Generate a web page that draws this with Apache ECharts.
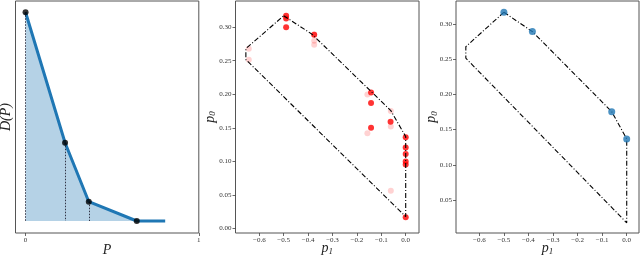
<!DOCTYPE html>
<html><head><meta charset="utf-8">
<script src="https://cdn.jsdelivr.net/npm/echarts@6/dist/echarts.min.js"></script>
<style>html,body{margin:0;padding:0;background:#fff}#c{width:640px;height:256px}</style>
</head><body><div id="c"></div>
<script>
// Panel 1: D(P) curve
const riskP = [0, 0.228, 0.365, 0.642];
const riskD = [1, 0.375, 0.0925, 0];
const tailP = 0.806;
const p1Ticks = [0, 1];
// Hull polygon (panels 2 and 3)
const hullP1 = [-0.50, -0.384, -0.061, 0.0, 0.0, -0.655, -0.655, -0.50];
const hullP0 = [0.317, 0.2895, 0.1756, 0.1368, 0.0175, 0.2516, 0.268, 0.317];
// Panel 2 solid red points
const redP1 = [-0.49, -0.49, -0.49, -0.375, -0.142, -0.142, -0.142, -0.062, 0, 0, 0, 0, 0, 0];
const redP0 = [0.317, 0.313, 0.300, 0.2886, 0.2026, 0.187, 0.150, 0.159, 0.136, 0.1207, 0.111, 0.0998, 0.0953, 0.0164];
// Panel 2 faint points
const pinkP1 = [-0.643, -0.643, -0.375, -0.375, -0.375, -0.157, -0.157, -0.061, -0.061, -0.061];
const pinkP0 = [0.2677, 0.2513, 0.2896, 0.2796, 0.2737, 0.1995, 0.142, 0.175, 0.152, 0.056];
// Panel 3 blue points
const blueP1 = [-0.50, -0.384, -0.061, 0.0];
const blueP0 = [0.317, 0.2895, 0.1756, 0.1368];
const xTicks = [-0.6, -0.5, -0.4, -0.3, -0.2, -0.1, 0.0];
const yTicks2 = [0.00, 0.05, 0.10, 0.15, 0.20, 0.25, 0.30];
const yTicks3 = [0.05, 0.10, 0.15, 0.20, 0.25, 0.30];

const FONT = 'Liberation Serif';
const zip = (a, b) => a.map((v, i) => [v, b[i]]);
const fmtMinus = v => v.toFixed(1).replace('-', '\u2212');
const tickLab = {fontFamily: FONT, fontSize: 7, color: '#333', margin: 4};
const tick = {show: true, inside: false, length: 3, lineStyle: {color: '#444', width: 0.8}};
const nameStyle = {fontFamily: FONT, fontSize: 14, color: '#222', fontStyle: 'italic',
  rich: {i: {fontFamily: FONT, fontSize: 14, fontStyle: 'italic', color: '#222'},
         s: {fontFamily: FONT, fontSize: 9, color: '#222', verticalAlign: 'bottom', padding: [6, 0, 0, 0]}}};

const grids = [
  {left: 15.5, top: 1, width: 183.3, height: 232},
  {left: 235.5, top: 1, width: 183.5, height: 232},
  {left: 456, top: 1, width: 183, height: 232}
].map(g => Object.assign(g, {show: true, borderColor: '#555', borderWidth: 1, backgroundColor: 'transparent',
  containLabel: false, outerBoundsMode: 'none'}));

function xAx(i, min, max, ticks, fmt, name, gap) {
  return {type: 'value', gridIndex: i, min, max, splitLine: {show: false}, axisLine: {show: false, onZero: false},
    axisTick: Object.assign({customValues: ticks}, tick),
    axisLabel: Object.assign({customValues: ticks, formatter: fmt}, tickLab),
    name, nameLocation: 'middle', nameGap: gap, nameMoveOverlap: false, nameTextStyle: nameStyle};
}
function yAx(i, min, max, ticks, fmt, name, gap) {
  const a = {type: 'value', gridIndex: i, min, max, splitLine: {show: false}, axisLine: {show: false, onZero: false},
    name, nameLocation: 'middle', nameGap: gap, nameMoveOverlap: false, nameRotate: 90, nameTextStyle: nameStyle};
  if (ticks) {
    a.axisTick = Object.assign({customValues: ticks}, tick);
    a.axisLabel = Object.assign({customValues: ticks, formatter: fmt}, tickLab);
  } else {
    a.axisTick = {show: false}; a.axisLabel = {show: false};
  }
  return a;
}

const curve = zip(riskP, riskD).concat([[tailP, 0]]);
const hull = zip(hullP1, hullP0);
const dash = {color: '#000', width: 1.1, type: [5, 2, 1, 2]};

const option = {
  animation: false,
  grid: grids,
  xAxis: [
    xAx(0, -0.058, 1.0, p1Ticks, v => String(v), 'P', 10),
    xAx(1, -0.6975, 0.0545, xTicks, fmtMinus, '{i|p}{s|1}', 8),
    xAx(2, -0.695, 0.050, xTicks, fmtMinus, '{i|p}{s|1}', 8)
  ],
  yAxis: [
    yAx(0, -0.0575, 1.054, null, null, 'D(P)', 2),
    yAx(1, -0.0069, 0.339, yTicks2, v => v.toFixed(2), '{i|p}{s|0}', 18),
    yAx(2, 0.003, 0.333, yTicks3, v => v.toFixed(2), '{i|p}{s|0}', 17)
  ],
  series: [
    {type: 'line', xAxisIndex: 0, yAxisIndex: 0, data: curve, symbol: 'none',
     lineStyle: {color: '#1f77b4', width: 3}, areaStyle: {color: '#1f77b4', opacity: 0.33, origin: 0},
     markLine: {silent: true, symbol: 'none', label: {show: false},
       lineStyle: {color: '#223', width: 0.9, type: [1.5, 1.5]},
       data: riskP.slice(0, 3).map((p, i) => [{coord: [p, riskD[i]]}, {coord: [p, 0]}])}},
    {type: 'scatter', xAxisIndex: 0, yAxisIndex: 0, data: zip(riskP, riskD), symbolSize: 6,
     itemStyle: {color: '#000'}, z: 5},
    {type: 'scatter', xAxisIndex: 1, yAxisIndex: 1, data: zip(pinkP1, pinkP0), symbolSize: 6,
     itemStyle: {color: 'rgba(255,0,0,0.22)'}},
    {type: 'scatter', xAxisIndex: 1, yAxisIndex: 1, data: zip(redP1, redP0), symbolSize: 6,
     itemStyle: {color: '#ff0000'}},
    {type: 'line', xAxisIndex: 1, yAxisIndex: 1, data: hull, symbol: 'none', lineStyle: dash, z: 4},
    {type: 'line', xAxisIndex: 2, yAxisIndex: 2, data: hull, symbol: 'none', lineStyle: dash},
    {type: 'scatter', xAxisIndex: 2, yAxisIndex: 2, data: zip(blueP1, blueP0), symbolSize: 7,
     itemStyle: {color: '#1f77b4'}, z: 5}
  ]
};
const chart = echarts.init(document.getElementById('c'), null, {renderer: 'canvas'});
chart.setOption(option);
</script></body></html>
